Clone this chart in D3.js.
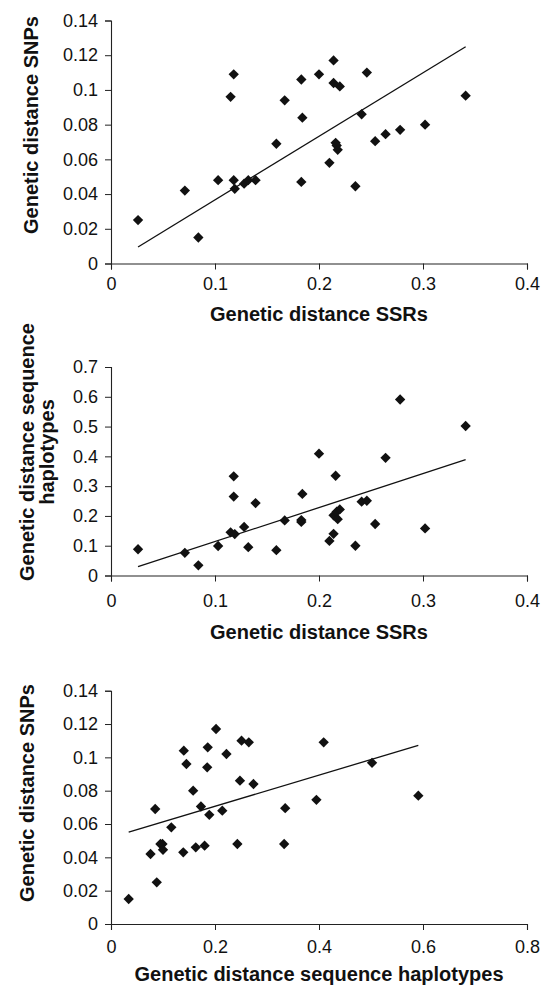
<!DOCTYPE html>
<html>
<head>
<meta charset="utf-8">
<script src="https://cdn.jsdelivr.net/npm/d3@7"></script>
<style>
  body { margin: 0; background: #fff; }
  text { font-family: "Liberation Sans", Arial, Helvetica, sans-serif; fill: #111; }
</style>
</head>
<body>
<script>
// values, one entry per accession pair
var ssr = [0.026, 0.071, 0.084, 0.103, 0.115, 0.118, 0.118, 0.119, 0.128, 0.132, 0.139,
           0.159, 0.167, 0.183, 0.183, 0.184, 0.200, 0.210, 0.214, 0.214, 0.216, 0.217,
           0.218, 0.220, 0.235, 0.241, 0.246, 0.254, 0.264, 0.278, 0.302, 0.341];
var snp = [0.025, 0.042, 0.015, 0.048, 0.096, 0.109, 0.048, 0.043, 0.046, 0.048, 0.048,
           0.069, 0.094, 0.106, 0.047, 0.084, 0.109, 0.058, 0.117, 0.104, 0.0695, 0.068,
           0.0655, 0.102, 0.0445, 0.086, 0.110, 0.0705, 0.0745, 0.077, 0.080, 0.0967];
var hap = [0.088, 0.076, 0.034, 0.099, 0.145, 0.265, 0.333, 0.139, 0.163, 0.095, 0.243,
           0.085, 0.185, 0.186, 0.180, 0.274, 0.409, 0.116, 0.202, 0.140, 0.335, 0.214,
           0.189, 0.222, 0.100, 0.248, 0.251, 0.173, 0.395, 0.591, 0.158, 0.502];

// tick labels
var ssrTicks = [0, 0.1, 0.2, 0.3, 0.4];
var snpTicks = [0, 0.02, 0.04, 0.06, 0.08, 0.1, 0.12, 0.14];
var hapTicks = [0, 0.1, 0.2, 0.3, 0.4, 0.5, 0.6, 0.7];
var hapTicksX = [0, 0.2, 0.4, 0.6, 0.8];

var width = 546, height = 987;
var left = 111, right = 527;

var svg = d3.select("body").append("svg")
    .attr("width", width)
    .attr("height", height);

// the two SSR plots use a trendline forced through the origin
var panels = [
  { xs: ssr, ys: snp, xTicks: ssrTicks, yTicks: snpTicks, origin: true,
    top: 20.5, bottom: 263.5, xLabelOff: 26, xTitleY: 321,
    xTitle: "Genetic distance SSRs", yTitle: ["Genetic distance SNPs"], yTitleX: 31, yTitleY: 125 },
  { xs: ssr, ys: hap, xTicks: ssrTicks, yTicks: hapTicks, origin: true,
    top: 367, bottom: 575.5, xLabelOff: 31, xTitleY: 639,
    xTitle: "Genetic distance SSRs", yTitle: ["Genetic distance sequence", "haplotypes"], yTitleX: 27, yTitleY: 452 },
  { xs: hap, ys: snp, xTicks: hapTicksX, yTicks: snpTicks, origin: false,
    top: 690.7, bottom: 924, xLabelOff: 29, xTitleY: 981,
    xTitle: "Genetic distance sequence haplotypes", yTitle: ["Genetic distance SNPs"], yTitleX: 27, yTitleY: 793 }
];

// least squares trend line, like the spreadsheet's linear trendline
function linReg(xs, ys, origin) {
  if (origin) {
    var sxy0 = d3.sum(xs, (x, i) => x * ys[i]);
    var sxx0 = d3.sum(xs, (x) => x * x);
    return { slope: sxy0 / sxx0, intercept: 0 };
  }
  var mx = d3.mean(xs), my = d3.mean(ys);
  var sxy = 0, sxx = 0;
  xs.forEach((x, i) => { sxy += (x - mx) * (ys[i] - my); sxx += (x - mx) * (x - mx); });
  var b = sxy / sxx;
  return { slope: b, intercept: my - b * mx };
}

var fmt = (d) => String(+d.toFixed(2));
var diamond = d3.symbol().type(d3.symbolDiamond2).size(68);

panels.forEach((p) => {
  var x = d3.scaleLinear()
      .domain([p.xTicks[0], p.xTicks[p.xTicks.length - 1]])
      .range([left, right]);
  var y = d3.scaleLinear()
      .domain([p.yTicks[0], p.yTicks[p.yTicks.length - 1]])
      .range([p.bottom, p.top]);

  var g = svg.append("g");

  // y axis
  var yAxis = g.append("g")
      .attr("transform", "translate(" + left + ",0)")
      .call(d3.axisLeft(y).tickValues(p.yTicks).tickFormat(fmt).tickSize(6).tickPadding(6));
  // x axis
  var xAxis = g.append("g")
      .attr("transform", "translate(0," + p.bottom + ")")
      .call(d3.axisBottom(x).tickValues(p.xTicks).tickFormat(fmt).tickSize(6).tickPadding(6));

  [yAxis, xAxis].forEach((a) => {
    a.select(".domain").attr("stroke", "#222").attr("stroke-width", 1.1);
    a.selectAll(".tick line").attr("stroke", "#222");
    a.selectAll(".tick text")
        .style("font-size", "18px")
        .attr("fill", "#111");
  });
  yAxis.selectAll(".tick text").attr("x", -13);
  xAxis.selectAll(".tick text").attr("y", p.xLabelOff).attr("dy", 0);

  // trend line
  var r = linReg(p.xs, p.ys, p.origin);
  var x0 = d3.min(p.xs), x1 = d3.max(p.xs);
  g.append("line")
      .attr("x1", x(x0)).attr("y1", y(r.intercept + r.slope * x0))
      .attr("x2", x(x1)).attr("y2", y(r.intercept + r.slope * x1))
      .attr("stroke", "#111")
      .attr("stroke-width", 1.3);

  // points
  g.selectAll("path.pt")
      .data(p.xs.map((v, i) => [v, p.ys[i]]))
      .enter()
      .append("path")
        .attr("class", "pt")
        .attr("d", diamond)
        .attr("transform", (d) => "translate(" + x(d[0]) + "," + y(d[1]) + ")")
        .attr("fill", "#111");

  // axis titles
  g.append("text")
      .attr("x", (left + right) / 2)
      .attr("y", p.xTitleY)
      .attr("text-anchor", "middle")
      .style("font-size", "20px")
      .style("font-weight", "bold")
      .text(p.xTitle);

  var n = p.yTitle.length;
  p.yTitle.forEach((t, i) => {
    var cx = p.yTitleX + (i - (n - 1) / 2) * 20 + (n > 1 ? 10 : 0);
    g.append("text")
        .attr("transform", "translate(" + cx + "," + p.yTitleY + ") rotate(-90)")
        .attr("text-anchor", "middle")
        .attr("dy", "0.36em")
        .style("font-size", "20px")
        .style("font-weight", "bold")
        .text(t);
  });
});
</script>
</body>
</html>
